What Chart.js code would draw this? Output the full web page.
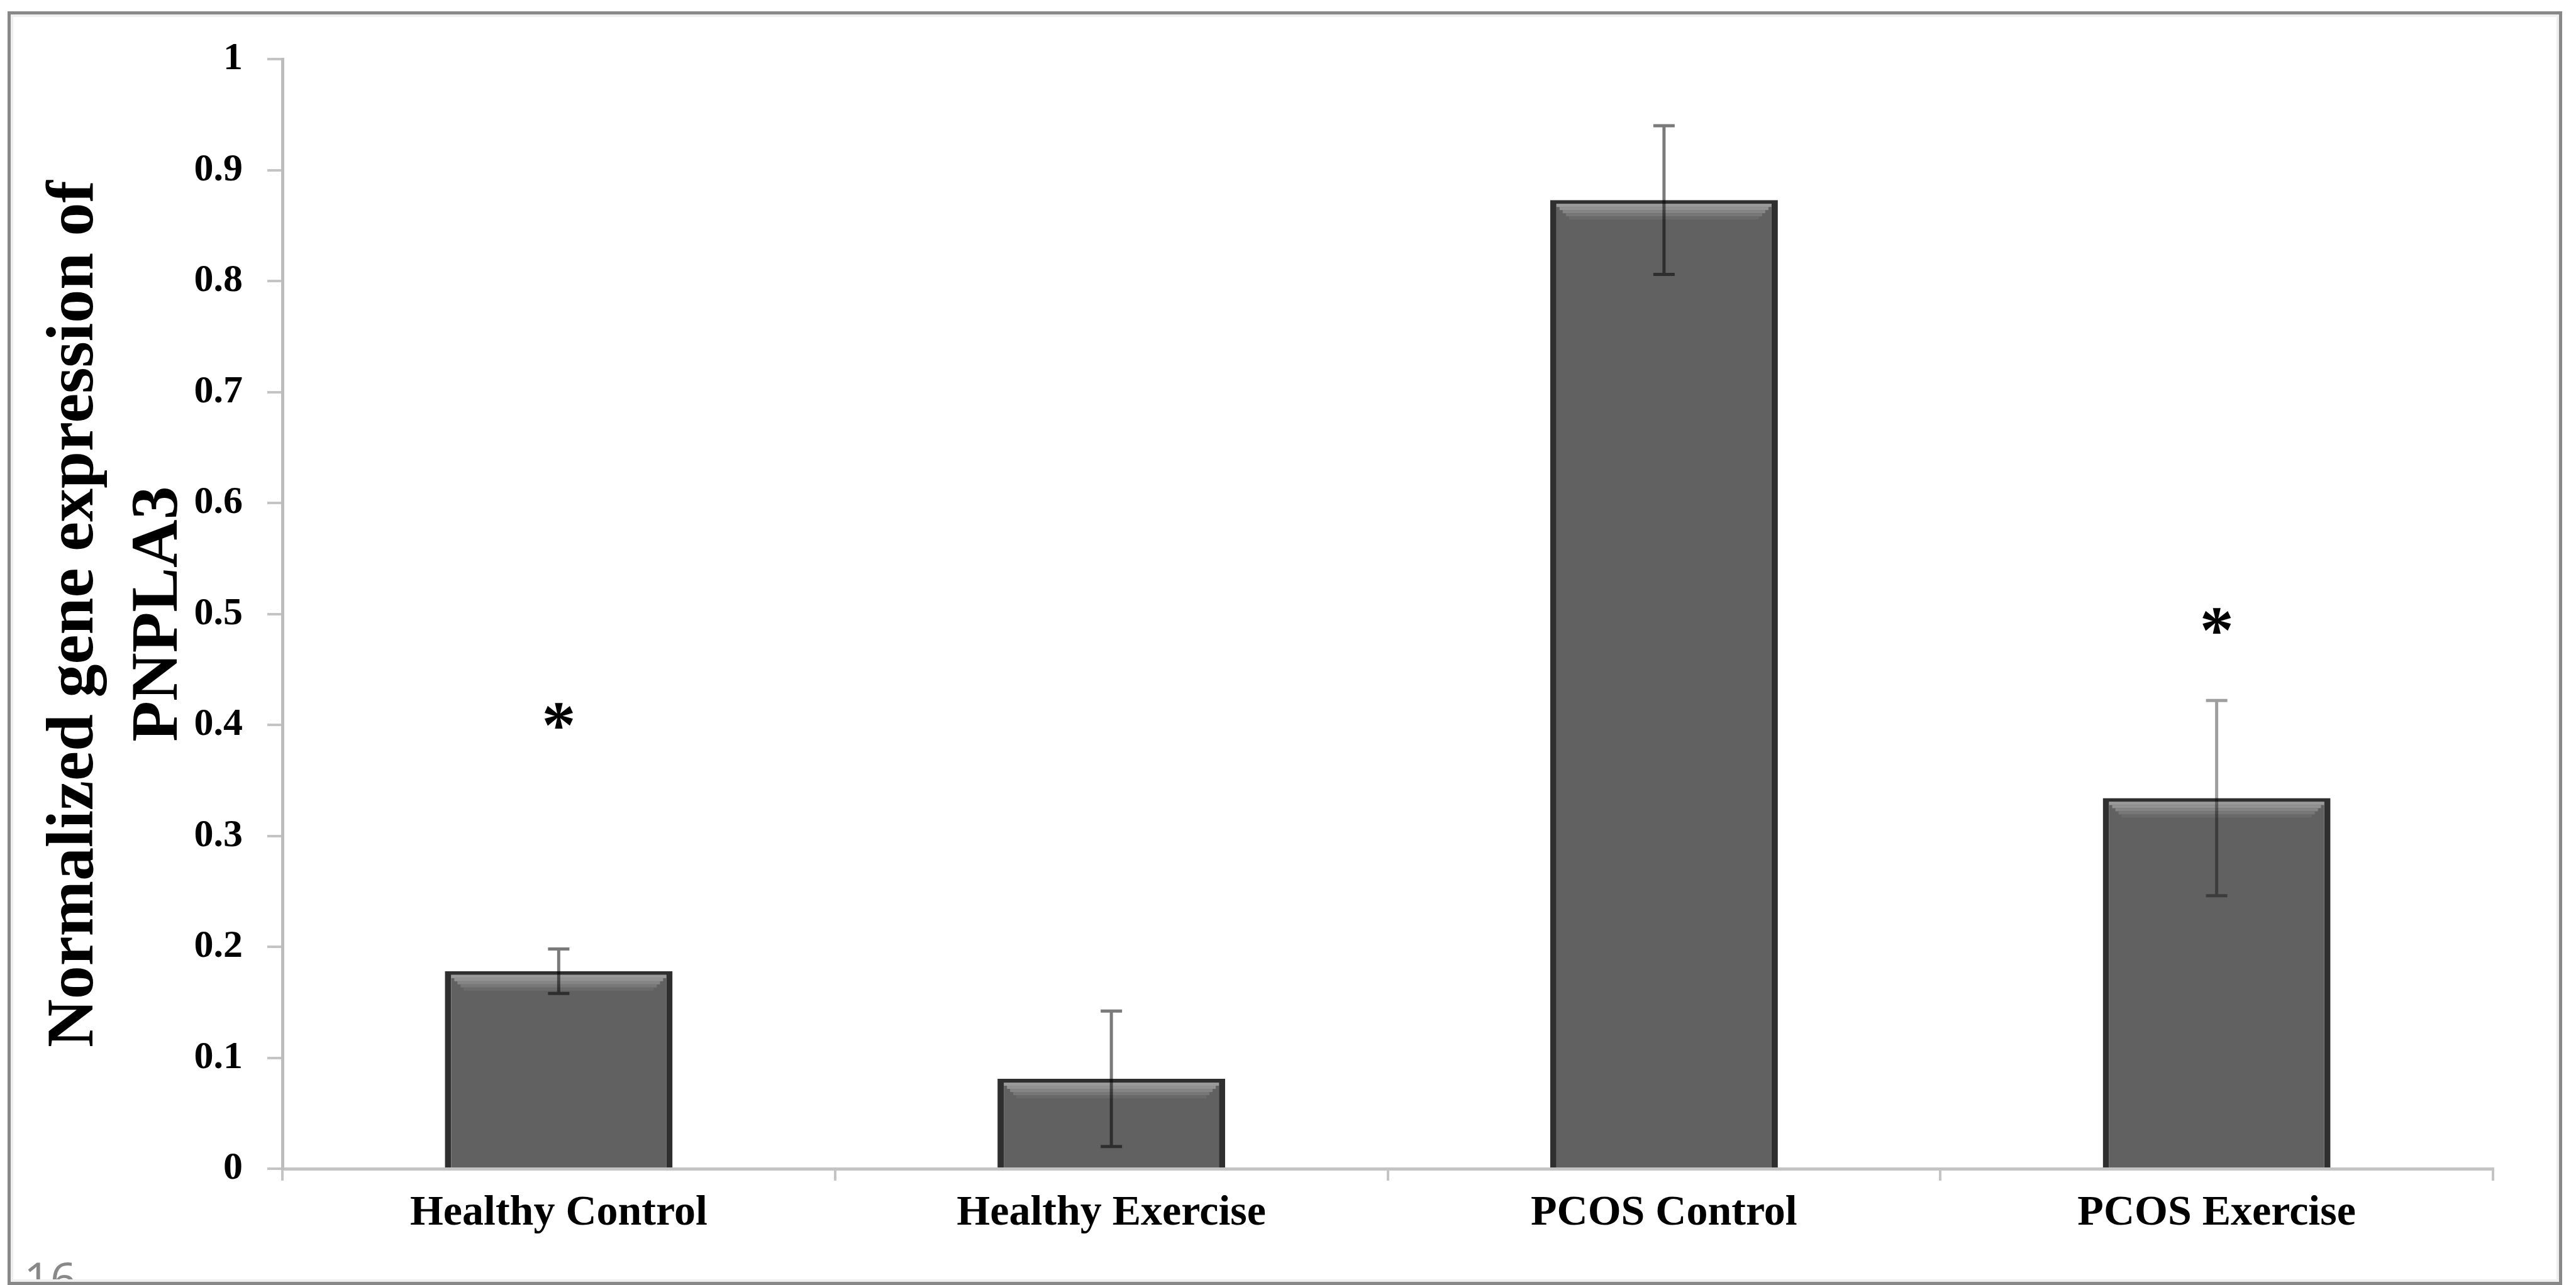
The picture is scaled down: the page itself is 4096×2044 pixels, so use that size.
<!DOCTYPE html>
<html><head><meta charset="utf-8">
<script src="https://cdn.jsdelivr.net/npm/chart.js@4.4.1/dist/chart.umd.min.js"></script>
<style>html,body{margin:0;padding:0;background:#fff;overflow:hidden}canvas{display:block}</style>
</head><body>
<canvas id="c" width="4096" height="2044"></canvas>
<script>
// ---- data ----
const categories = ['Healthy Control', 'Healthy Exercise', 'PCOS Control', 'PCOS Exercise'];
const means = [0.178, 0.081, 0.873, 0.334];
const errors = [0.020, 0.061, 0.067, 0.088];
const significance = [0.408, null, null, 0.494];   // asterisk positions (value units)
const yTickLabels = ['0', '0.1', '0.2', '0.3', '0.4', '0.5', '0.6', '0.7', '0.8', '0.9', '1'];
const yTitle = ['Normalized gene expression of', 'PNPLA3'];
const footnote = '16';

const SERIF = "'Liberation Serif','Times New Roman',Times,serif";

const bevelPlugin = {
  id: 'bevel',
  afterDatasetsDraw(chart) {
    const ctx = chart.ctx;
    const shades = ['#9a9a9a', '#929292', '#858585', '#777777', '#6a6a6a'];
    ctx.save();
    chart.getDatasetMeta(0).data.forEach(bar => {
      const p = bar.getProps(['x', 'y', 'width'], true);
      const l = p.x - p.width / 2 + 10, r = p.x + p.width / 2 - 10, t = p.y + 6;
      shades.forEach((c, k) => {
        ctx.fillStyle = c;
        ctx.fillRect(l + k * 5, t + k * 5, (r - l) - k * 10, 5);
      });
    });
    ctx.restore();
  }
};

const errorBarPlugin = {
  id: 'errorBars',
  afterDatasetsDraw(chart) {
    const ctx = chart.ctx, ys = chart.scales.y;
    ctx.save();
    chart.getDatasetMeta(0).data.forEach((bar, i) => {
      const x = bar.x;
      const top = ys.getPixelForValue(means[i] + errors[i]);
      const bot = ys.getPixelForValue(means[i] - errors[i]);
      ctx.strokeStyle = i === 3 ? 'rgba(0,0,0,0.38)' : 'rgba(0,0,0,0.52)';
      ctx.lineWidth = 5;
      ctx.beginPath();
      ctx.moveTo(x, top); ctx.lineTo(x, bot);
      ctx.moveTo(x - 17, top); ctx.lineTo(x + 17, top);
      ctx.moveTo(x - 17, bot); ctx.lineTo(x + 17, bot);
      ctx.stroke();
    });
    ctx.restore();
  }
};

const asteriskPlugin = {
  id: 'asterisks',
  afterDatasetsDraw(chart) {
    const ctx = chart.ctx, ys = chart.scales.y;
    ctx.save();
    ctx.font = 'bold 108px ' + SERIF;
    ctx.fillStyle = '#000';
    ctx.textAlign = 'center';
    ctx.textBaseline = 'alphabetic';
    const m = ctx.measureText('*');
    const mid = (m.actualBoundingBoxAscent - m.actualBoundingBoxDescent) / 2;
    chart.getDatasetMeta(0).data.forEach((bar, i) => {
      if (significance[i] == null) return;
      const yc = ys.getPixelForValue(significance[i]);
      ctx.fillText('*', bar.x, yc + mid);
    });
    ctx.restore();
  }
};

const framePlugin = {
  id: 'frame',
  afterDraw(chart) {
    const ctx = chart.ctx, W = chart.width, H = chart.height;
    ctx.save();
    ctx.font = "73px 'Open Sans', 'DejaVu Sans', sans-serif";
    ctx.fillStyle = '#888888';
    ctx.textAlign = 'left';
    ctx.textBaseline = 'alphabetic';
    ctx.fillText(footnote, 38, 2061);
    ctx.strokeStyle = '#efefef';
    ctx.lineWidth = 4;
    ctx.strokeRect(19, 25, 4048, 2012);
    ctx.strokeStyle = '#888888';
    ctx.lineWidth = 5;
    ctx.strokeRect(14.5, 20.5, 4057, 2021);
    ctx.restore();
  }
};

new Chart(document.getElementById('c'), {
  type: 'bar',
  data: {
    labels: categories,
    datasets: [{
      data: means,
      backgroundColor: '#616161',
      borderColor: '#2f2f2f',
      borderWidth: { left: 10, right: 10, top: 6, bottom: 0 },
      barPercentage: 0.412,
      categoryPercentage: 1.0
    }]
  },
  options: {
    responsive: false,
    animation: false,
    devicePixelRatio: 1,
    layout: { padding: { left: 30, right: 132, top: 94, bottom: 0 } },
    plugins: { legend: { display: false }, tooltip: { enabled: false } },
    scales: {
      x: {
        grid: { display: true, drawOnChartArea: false, drawTicks: true, tickLength: 19, color: '#c4c4c4', lineWidth: 4, offset: true },
        border: { display: true, color: '#c4c4c4', width: 5 },
        ticks: { font: { family: SERIF, size: 68, weight: 'bold' }, color: '#000', padding: 12, maxRotation: 0, autoSkip: false },
        afterFit(s) { s.height = 185; }
      },
      y: {
        min: 0, max: 1,
        ticks: { stepSize: 0.1, callback: (v, i) => yTickLabels[i], font: { family: SERIF, size: 62, weight: 'bold' }, color: '#000', padding: 39 },
        grid: { drawOnChartArea: false, drawTicks: true, tickLength: 24, color: '#c4c4c4', lineWidth: 4 },
        border: { display: true, color: '#bdbdbd', width: 5 },
        title: { display: true, text: yTitle, font: { family: SERIF, size: 106, weight: 'bold', lineHeight: 1.27 }, color: '#000', padding: { top: 22, bottom: 0 } },
        afterFit(s) { s.width = 419; }
      }
    }
  },
  plugins: [bevelPlugin, errorBarPlugin, asteriskPlugin, framePlugin]
});
</script>
</body></html>
